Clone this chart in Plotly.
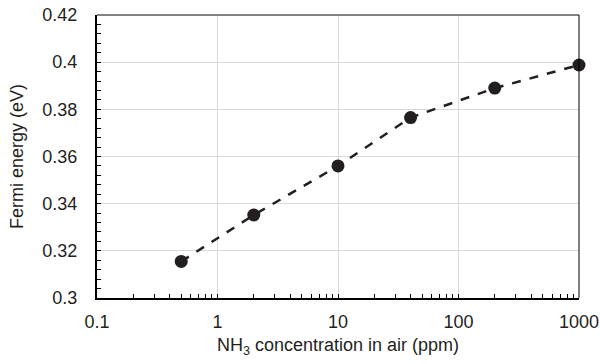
import plotly.graph_objects as go

concentration_ppm = [0.5, 2, 10, 40, 200, 1000]
fermi_energy_ev = [0.3155, 0.3352, 0.356, 0.3765, 0.389, 0.3988]

x_tick_vals = [0.1, 1, 10, 100, 1000]
x_tick_text = ["0.1", "1", "10", "100", "1000"]
y_tick_vals = [0.3, 0.32, 0.34, 0.36, 0.38, 0.4, 0.42]
y_tick_text = ["0.3", "0.32", "0.34", "0.36", "0.38", "0.4", "0.42"]
x_minor_vals = [m * d for d in [0.1, 1, 10, 100] for m in range(2, 10)]

dark = "#231f20"
font_family = "Liberation Sans, Arial, sans-serif"

fig = go.Figure()
fig.add_trace(go.Scatter(
    x=concentration_ppm, y=fermi_energy_ev,
    mode="lines+markers",
    line=dict(color=dark, width=2.5, dash="dash"),
    marker=dict(color=dark, size=13),
    cliponaxis=False,
    showlegend=False,
))

fig.update_layout(
    width=600, height=364,
    margin=dict(l=97, r=21, t=15, b=66),
    paper_bgcolor="white", plot_bgcolor="white",
    font=dict(family=font_family, size=18, color="#231f20"),
    xaxis=dict(
        type="log", range=[-1, 3],
        tickvals=x_tick_vals, ticktext=x_tick_text,
        showgrid=True, gridcolor="#d9d9d9", gridwidth=1,
        showline=True, linecolor="black", linewidth=2,
        ticks="inside", ticklen=4, tickcolor="black", tickwidth=1,
        minor=dict(tickvals=x_minor_vals, ticks="inside", ticklen=4,
                   tickcolor="black", tickwidth=1, showgrid=False),
        zeroline=False,
        ticklabelstandoff=6,
        title=dict(text="NH<sub>3</sub> concentration in air (ppm)", font=dict(size=18), standoff=8),
        tickfont=dict(size=18),
        automargin=False,
    ),
    yaxis=dict(
        range=[0.3, 0.42],
        tickvals=y_tick_vals, ticktext=y_tick_text,
        showgrid=True, gridcolor="#d9d9d9", gridwidth=1,
        showline=True, linecolor="black", linewidth=2,
        ticks="inside", ticklen=4, tickcolor="black", tickwidth=1,
        minor=dict(dtick=0.004, ticks="inside", ticklen=4, tickcolor="black", tickwidth=1, showgrid=False),
        zeroline=False,
        ticklabelstandoff=14,
        title=dict(text="Fermi energy (eV)", font=dict(size=18), standoff=14),
        tickfont=dict(size=18),
        automargin=False,
    ),
    shapes=[
        dict(type="line", xref="paper", yref="paper", x0=0, x1=1, y0=1, y1=1,
             line=dict(color="#595959", width=1.5)),
        dict(type="line", xref="paper", yref="paper", x0=1, x1=1, y0=0, y1=1,
             line=dict(color="black", width=1)),
    ],
)

fig.write_html("out.html")
